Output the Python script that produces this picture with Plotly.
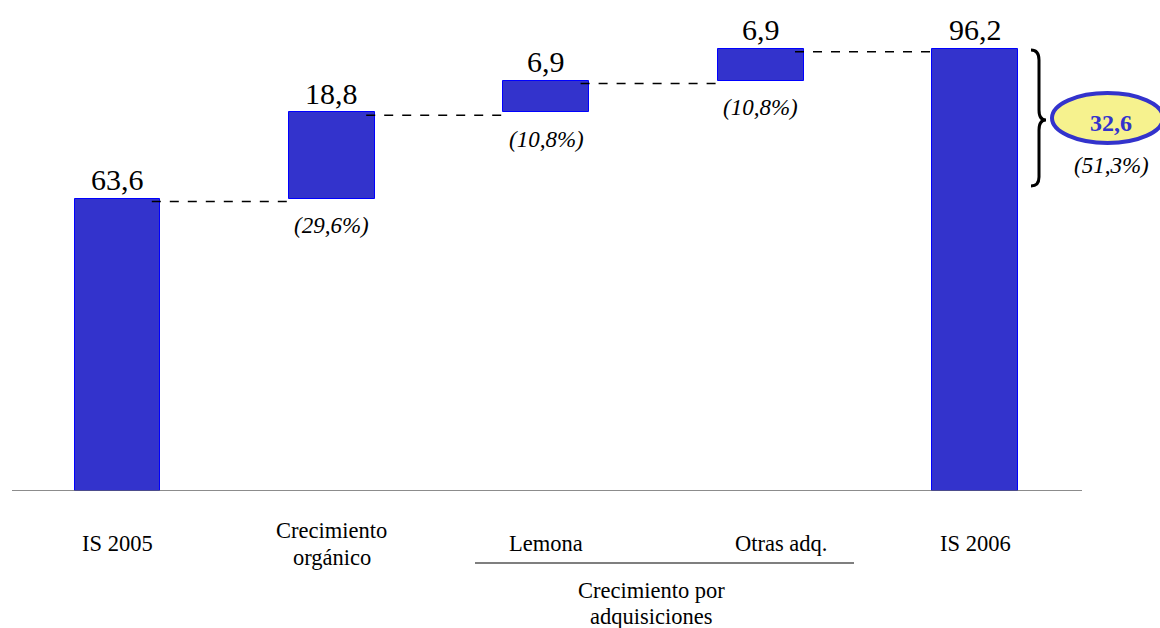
import plotly.graph_objects as go

categories = ["IS 2005", "Crecimiento<br>orgánico", "Lemona", "Otras adq.", "IS 2006"]
values = [63.6, 18.8, 6.9, 6.9, 96.2]
kinds = ["total", "delta", "delta", "delta", "total"]
value_labels = ["63,6", "18,8", "6,9", "6,9", "96,2"]
pct_labels = [None, "(29,6%)", "(10,8%)", "(10,8%)", None]
group_label = ["Crecimiento por", "adquisiciones"]
total_growth = "32,6"
total_growth_pct = "(51,3%)"

W, H = 1160, 628
MB = 137
PLOT_H = H - MB
X0_PX, STEP_PX = 117.5, 214.4
YSCALE = 4.595  # px per unit
xr = [-X0_PX / STEP_PX, (W - X0_PX) / STEP_PX]
yr = [0, PLOT_H / YSCALE]

def px(xp):
    return xp / W

def py(yp):
    return (PLOT_H - yp) / PLOT_H

# compute bases
bases, cum = [], 0.0
for v, k in zip(values, kinds):
    if k == "total":
        bases.append(0.0)
        cum = v
    else:
        bases.append(cum)
        cum += v
tops = [b + v for b, v in zip(bases, values)]
xs = list(range(len(values)))

FONT = "Liberation Serif, Times New Roman, serif"
BAR_W = 0.40

fig = go.Figure()
fig.add_trace(go.Bar(
    x=xs, y=values, base=bases, width=BAR_W,
    marker=dict(color="#3333CC", line=dict(color="#0000FF", width=1)),
    hoverinfo="skip", showlegend=False,
))

shapes = []
# connectors
for i in range(len(values) - 1):
    lvl = tops[i]
    shapes.append(dict(type="line", xref="x", yref="y",
                       x0=xs[i] + 0.16, x1=xs[i + 1] - 0.17,
                       y0=lvl - 0.6, y1=lvl - 0.6,
                       line=dict(color="black", width=1.5, dash="dash")))
# baseline axis
shapes.append(dict(type="line", xref="paper", yref="y",
                   x0=px(12), x1=px(1082), y0=0, y1=0,
                   line=dict(color="#666666", width=1.5)))
# underline for acquisitions group
shapes.append(dict(type="line", xref="paper", yref="paper",
                   x0=px(475), x1=px(854), y0=py(563), y1=py(563),
                   line=dict(color="black", width=1.2)))
# brace
def P(p):
    return f"{px(p[0]):.5f},{py(p[1]):.5f}"
path = (f"M {P((1031,50))} Q {P((1039,50))} {P((1039,60))} "
        f"L {P((1039,110))} Q {P((1039,120))} {P((1046,120))} "
        f"Q {P((1039,120))} {P((1039,130))} "
        f"L {P((1039,177))} Q {P((1039,186))} {P((1031,186))}")
shapes.append(dict(type="path", xref="paper", yref="paper", path=path,
                   line=dict(color="black", width=3)))
# ellipse
shapes.append(dict(type="circle", xref="paper", yref="paper",
                   x0=px(1052), x1=px(1163), y0=py(93), y1=py(143),
                   fillcolor="#F6F28E", line=dict(color="#3333CC", width=4)))

CAT_SIZE = 22.5
ann = []
for i in xs:
    ann.append(dict(x=xs[i], y=tops[i], xref="x", yref="y", text=value_labels[i],
                    showarrow=False, xanchor="center", yanchor="middle", yshift=19,
                    font=dict(family=FONT, size=30, color="black")))
    if pct_labels[i]:
        ann.append(dict(x=xs[i], y=bases[i], xref="x", yref="y", text=f"<i>{pct_labels[i]}</i>",
                        showarrow=False, xanchor="center", yanchor="middle", yshift=-27,
                        font=dict(family=FONT, size=23, color="black")))
    xshift = 20 if i == 3 else 0
    lines = categories[i].split("<br>")
    if len(lines) == 1:
        offs = [-52]
    else:
        offs = [-39, -66]
    for ln, off in zip(lines, offs):
        ann.append(dict(x=xs[i], y=0, xref="x", yref="paper", text=ln,
                        showarrow=False, xanchor="center", yanchor="middle", yshift=off, xshift=xshift,
                        font=dict(family=FONT, size=CAT_SIZE, color="black")))
for ln, off in zip(group_label, [-99, -125]):
    ann.append(dict(x=px(651), y=0, xref="paper", yref="paper", text=ln,
                    showarrow=False, xanchor="center", yanchor="middle", yshift=off,
                    font=dict(family=FONT, size=CAT_SIZE, color="black")))
ann.append(dict(x=px(1111), y=py(123), xref="paper", yref="paper", text=f"<b>{total_growth}</b>",
                showarrow=False, xanchor="center", yanchor="middle",
                font=dict(family=FONT, size=24, color="#3333CC")))
ann.append(dict(x=px(1111), y=py(165), xref="paper", yref="paper", text=f"<i>{total_growth_pct}</i>",
                showarrow=False, xanchor="center", yanchor="middle",
                font=dict(family=FONT, size=23, color="black")))

fig.update_layout(
    width=W, height=H,
    margin=dict(l=0, r=0, t=0, b=MB),
    paper_bgcolor="white", plot_bgcolor="white",
    xaxis=dict(range=xr, visible=False, fixedrange=True),
    yaxis=dict(range=yr, visible=False, fixedrange=True),
    shapes=shapes, annotations=ann, bargap=0,
)
fig.write_html("out.html")
